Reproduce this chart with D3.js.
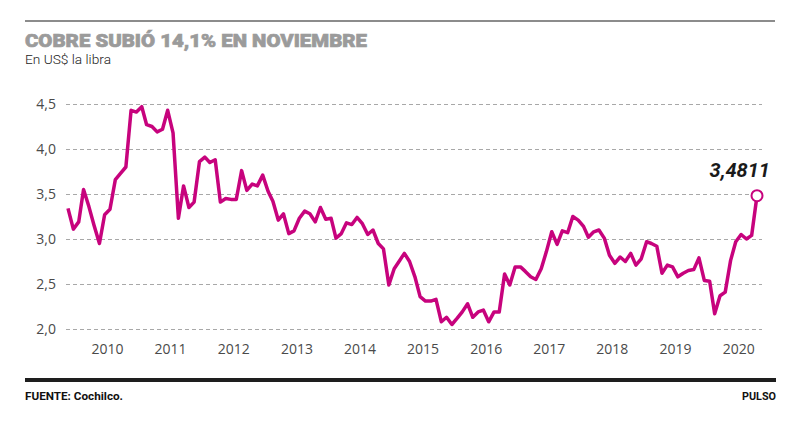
<!DOCTYPE html>
<html lang="es">
<head>
<meta charset="UTF-8">
<title>Cobre subió 14,1% en noviembre</title>
<style>
    body {
        margin: 0;
        background: #ffffff;
        font-family: Roboto, "Open Sans", Arial, sans-serif;
    }
    .tick text {
        font-family: "Open Sans", Roboto, sans-serif;
        font-size: 14px;
        fill: #4a4a4a;
    }
</style>
<script src="https://cdn.jsdelivr.net/npm/d3@7"></script>
</head>
<body>
<div id="chart"></div>
<script>

// monthly copper price, US$ per lb, Dec 2009 .. Nov 2020
var startMonth = [2009, 11];   // year, month index (0 = Jan)
var prices = [
    3.34,
    3.11, 3.19, 3.55, 3.36, 3.15, 2.95, 3.27, 3.33, 3.66, 3.73, 3.80, 4.43,
    4.41, 4.47, 4.27, 4.25, 4.19, 4.22, 4.43, 4.18, 3.23, 3.59, 3.35, 3.41,
    3.86, 3.91, 3.85, 3.88, 3.41, 3.45, 3.44, 3.44, 3.76, 3.54, 3.61, 3.59,
    3.71, 3.53, 3.42, 3.21, 3.28, 3.06, 3.09, 3.23, 3.31, 3.28, 3.19, 3.35,
    3.22, 3.23, 3.01, 3.06, 3.18, 3.16, 3.24, 3.17, 3.05, 3.10, 2.95, 2.89,
    2.49, 2.67, 2.75, 2.84, 2.75, 2.58, 2.36, 2.31, 2.31, 2.33, 2.08, 2.13,
    2.05, 2.12, 2.19, 2.28, 2.13, 2.19, 2.21, 2.08, 2.19, 2.19, 2.61, 2.49,
    2.69, 2.69, 2.64, 2.58, 2.55, 2.67, 2.86, 3.08, 2.94, 3.09, 3.07, 3.25,
    3.21, 3.14, 3.02, 3.08, 3.10, 3.01, 2.82, 2.73, 2.80, 2.75, 2.84, 2.71,
    2.78, 2.97, 2.95, 2.92, 2.62, 2.71, 2.69, 2.58, 2.62, 2.65, 2.66, 2.79,
    2.54, 2.53, 2.17, 2.37, 2.41, 2.76, 2.97, 3.05, 3.00, 3.04, 3.4811
];
var yearLabels = [2010, 2011, 2012, 2013, 2014, 2015, 2016, 2017, 2018, 2019, 2020];
var yTicks = [2.0, 2.5, 3.0, 3.5, 4.0, 4.5];
var lastLabel = "3,4811";

var width = 800, height = 423;
var lineColor = "#c7037d";

var data = prices.map(function(v, i) {
    return { date: new Date(startMonth[0], startMonth[1] + i, 1), value: v };
});

var svg = d3.select("#chart")
  .append("svg")
    .attr("width", width)
    .attr("height", height);

var x = d3.scaleTime()
    .domain([data[0].date, data[data.length - 1].date])
    .range([68, 757]);

var y = d3.scaleLinear()
    .domain([2, 4.5])
    .range([329, 104]);

// top rule + titles
svg.append("line")
    .attr("x1", 25).attr("x2", 775)
    .attr("y1", 21).attr("y2", 21)
    .attr("stroke", "#8c8c8c")
    .attr("stroke-width", 2);

svg.append("text")
    .attr("x", 25)
    .attr("y", 47)
    .attr("font-size", 19)
    .attr("font-weight", 900)
    .attr("fill", "#9b9b9b")
    .attr("stroke", "#9b9b9b")
    .attr("stroke-width", 0.7)
    .attr("textLength", 342)
    .attr("lengthAdjust", "spacingAndGlyphs")
    .text("COBRE SUBIÓ 14,1% EN NOVIEMBRE");

svg.append("text")
    .attr("x", 25)
    .attr("y", 64)
    .attr("font-size", 13)
    .attr("font-weight", 300)
    .attr("fill", "#222")
    .attr("textLength", 86)
    .attr("lengthAdjust", "spacingAndGlyphs")
    .text("En US$ la libra");

// y grid
var yAxis = svg.append("g")
    .attr("transform", "translate(66,0)")
    .call(d3.axisLeft(y)
        .tickValues(yTicks)
        .tickSize(-696)
        .tickPadding(10)
        .tickFormat(function(d) { return d3.format(".1f")(d).replace(".", ","); }));
yAxis.select(".domain").remove();
yAxis.selectAll(".tick line")
    .attr("stroke", "#a8a8a8")
    .attr("stroke-dasharray", "4,3");

// x labels
var xAxis = svg.append("g")
    .attr("transform", "translate(0,341)")
    .call(d3.axisBottom(x)
        .tickValues(yearLabels.map(function(yr) { return new Date(yr, 6, 15); }))
        .tickSize(0)
        .tickFormat(d3.timeFormat("%Y")));
xAxis.select(".domain").remove();

// price line
var line = d3.line()
    .x(function(d) { return x(d.date); })
    .y(function(d) { return y(d.value); });

svg.append("path")
    .datum(data)
    .attr("fill", "none")
    .attr("stroke", lineColor)
    .attr("stroke-width", 3.5)
    .attr("stroke-linejoin", "round")
    .attr("d", line);

var last = data[data.length - 1];
svg.append("circle")
    .attr("cx", x(last.date))
    .attr("cy", y(last.value))
    .attr("r", 5.5)
    .attr("fill", "#fff")
    .attr("stroke", lineColor)
    .attr("stroke-width", 2);

svg.append("text")
    .attr("x", 770)
    .attr("y", 177)
    .attr("text-anchor", "end")
    .attr("font-size", 20)
    .attr("font-weight", 700)
    .attr("font-style", "italic")
    .attr("fill", "#1a1a1a")
    .text(lastLabel);

// footer
svg.append("line")
    .attr("x1", 25).attr("x2", 776)
    .attr("y1", 380).attr("y2", 380)
    .attr("stroke", "#1e1e1e")
    .attr("stroke-width", 4);

svg.append("text")
    .attr("x", 25)
    .attr("y", 400)
    .attr("font-size", 11)
    .attr("font-weight", 700)
    .attr("fill", "#111")
    .attr("textLength", 98)
    .attr("lengthAdjust", "spacingAndGlyphs")
    .text("FUENTE: Cochilco.");

svg.append("text")
    .attr("x", 776)
    .attr("y", 400)
    .attr("text-anchor", "end")
    .attr("font-size", 11)
    .attr("font-weight", 700)
    .attr("fill", "#111")
    .attr("textLength", 34)
    .attr("lengthAdjust", "spacingAndGlyphs")
    .text("PULSO");
</script>
</body>
</html>
